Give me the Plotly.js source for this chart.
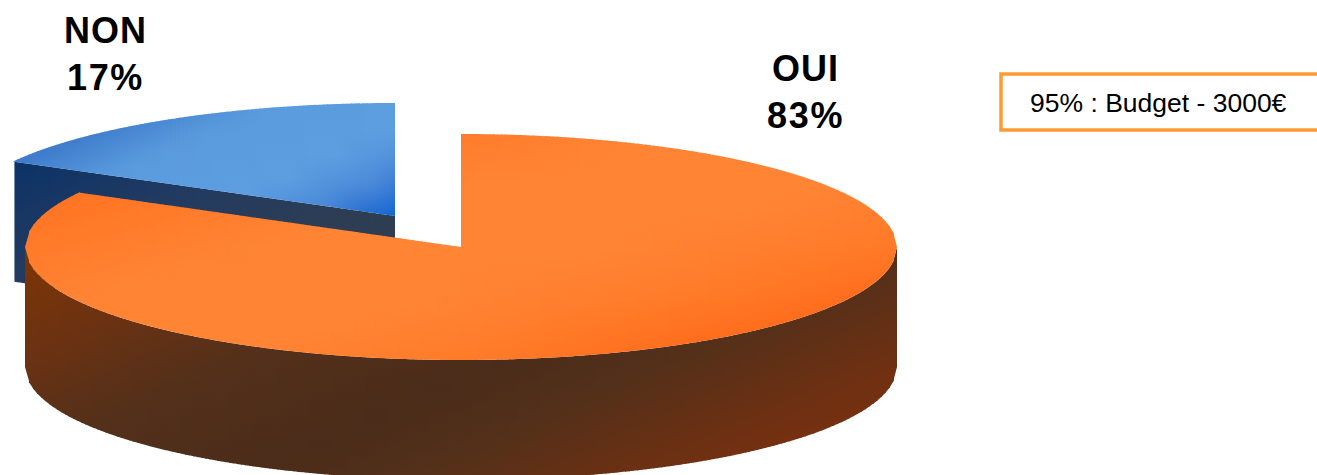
<!DOCTYPE html>
<html><head><meta charset="utf-8">
<script src="https://cdn.plot.ly/plotly-3.0.1.min.js"></script>
<style>html,body{margin:0;padding:0;background:#fff}#c{width:1317px;height:475px}</style>
</head><body><div id="c"></div>
<script>
// --- data ---
var categories = ['OUI', 'NON'];
var shares = [83, 17];
var noteText = '95% : Budget - 3000€';

// --- view geometry (pie projected in page pixels through the axes) ---
var RX = 436, RY = 113, DEPTH = 120, STEP = 4;
var orangeC = {x: 461, y: 247}, blueC = {x: 395, y: 216};
var total = shares[0] + shares[1];
var endAngle = 2 * Math.PI * shares[0] / total;     // clockwise from 12 o'clock
var tipDX = RX * Math.sin(endAngle), tipDY = -RY * Math.cos(endAngle);

// --- shading ramps, along t = x + k y ---
var rampOrangeTop = {k:3.5, stops:[[700,'#ff7220'],[1150,'#ff8535'],[1450,'#ff8535'],[1750,'#ff7a28'],[1900,'#ff6d1c']]};
var rampOrangeWall = {k:2.2, stops:[[600,'#7c3505'],[800,'#6c3212'],[1030,'#53301a'],[1300,'#4b2c1a'],[1450,'#52301a'],[1750,'#753010']]};
var rampBlueTop = {k:2.2, stops:[[380,'#3f7dcc'],[500,'#5a9bdd'],[680,'#5c9ee0'],[780,'#4a88d8'],[830,'#2a70d2'],[875,'#0d66d0']]};
var rampBlueWall = {k:2.2, stops:[[380,'#0c3367'],[620,'#233b60'],[850,'#2e3e52']]};

function hex(c){return [1,3,5].map(function(i){return parseInt(c.substr(i,2),16);});}
function shade(ramp,t){
  var r=ramp.stops;
  if(t<=r[0][0]) return r[0][1];
  for(var i=1;i<r.length;i++){
    if(t<=r[i][0]){
      var f=(t-r[i-1][0])/(r[i][0]-r[i-1][0]),a=hex(r[i-1][1]),b=hex(r[i][1]);
      return 'rgb('+a.map(function(v,k){return Math.round(v+(b[k]-v)*f);}).join(',')+')';
    }
  }
  return r[r.length-1][1];
}
function upper(c,x){var u=(x-c.x)/RX;return c.y-RY*Math.sqrt(Math.max(0,1-u*u));}
function lower(c,x){var u=(x-c.x)/RX;return c.y+RY*Math.sqrt(Math.max(0,1-u*u));}

var traces=[];
function slats(x0,x1,top,bot,ramp,joinRight){
  var n=Math.max(1,Math.round((x1-x0)/STEP)),w=(x1-x0)/n;
  for(var i=0;i<n;i++){
    var a=x0+i*w,b=a+w,bb=b+0.8;
    if(i===n-1 && !joinRight) bb=b;
    var ys=[top(a),top(bb),bot(bb),bot(a)];
    var y0=Math.min.apply(null,ys),y1=Math.max.apply(null,ys);
    if(y1-y0<0.05) continue;
    var m=(a+bb)/2,cs=[];
    for(var k=0;k<=4;k++){
      var yy=y0+(y1-y0)*k/4;
      cs.push([k/4,shade(ramp,m+ramp.k*yy)]);
    }
    traces.push({type:'scatter',mode:'lines',x:[a,bb,bb,a,a],y:[ys[0],ys[1],ys[2],ys[3],ys[0]],
      fill:'toself',line:{width:0},hoverinfo:'skip',showlegend:false,
      fillgradient:{type:'vertical',start:y0,stop:y1,colorscale:cs}});
  }
}

// blue slice (exploded) : wall then top
var bTipX=blueC.x+tipDX, bTipY=blueC.y+tipDY;
function bEdge(x){return bTipY+(blueC.y-bTipY)*(x-bTipX)/(blueC.x-bTipX);}
slats(bTipX+1.5,blueC.x,bEdge,function(x){return bEdge(x)+DEPTH;},rampBlueWall,false);
slats(bTipX,blueC.x,function(x){return upper(blueC,x);},bEdge,rampBlueTop,false);

// orange slice : wall then top
var oTipX=orangeC.x+tipDX, oTipY=orangeC.y+tipDY;
function oEdge(x){return oTipY+(orangeC.y-oTipY)*(x-oTipX)/(orangeC.x-oTipX);}
var xL=orangeC.x-RX, xR=orangeC.x+RX;
slats(xL,xR,function(x){return lower(orangeC,x);},function(x){return lower(orangeC,x)+DEPTH;},rampOrangeWall,false);
var lo=function(x){return lower(orangeC,x);};
slats(xL,oTipX,function(x){return upper(orangeC,x);},lo,rampOrangeTop,true);
slats(oTipX,orangeC.x,oEdge,lo,rampOrangeTop,true);
slats(orangeC.x,xR,function(x){return upper(orangeC,x);},lo,rampOrangeTop,false);

var labelFont={family:'"Liberation Sans",Arial,sans-serif',size:36,color:'#000000'};
function pieLabel(i,x,y){
  return {xref:'x',yref:'y',x:x,y:y,xanchor:'center',yanchor:'middle',showarrow:false,align:'center',
    text:'<b><span style="letter-spacing:1px">'+categories[i]+'</span><br><span style="letter-spacing:1.7px">'+shares[i]+'%</span></b>',font:labelFont};
}
var layout={
  width:1317,height:475,margin:{l:0,r:0,t:0,b:0},paper_bgcolor:'#fff',plot_bgcolor:'#fff',showlegend:false,
  xaxis:{range:[0,1317],visible:false,fixedrange:true},
  yaxis:{range:[475,0],visible:false,fixedrange:true},
  shapes:[{type:'rect',xref:'x',yref:'y',x0:1001,x1:1330,y0:74,y1:130,line:{color:'#ff9a33',width:3.5},fillcolor:'#ffffff'}],
  annotations:[pieLabel(1,105.5,54),pieLabel(0,805.5,92),
    {xref:'x',yref:'y',x:1028,y:103,xanchor:'left',yanchor:'middle',showarrow:false,text:noteText,
     font:{family:'"Liberation Sans",Arial,sans-serif',size:26.5,color:'#000000'}}]
};
Plotly.newPlot('c',traces,layout,{displayModeBar:false,staticPlot:true});
</script></body></html>
